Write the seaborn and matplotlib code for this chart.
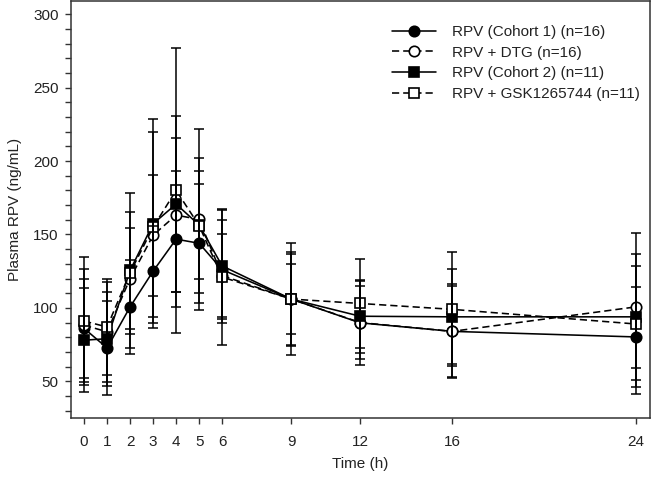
import numpy as np
import pandas as pd
import matplotlib
matplotlib.use("Agg")
import matplotlib.pyplot as plt
import seaborn as sns

times = [0, 1, 2, 3, 4, 5, 6, 9, 12, 16, 24]

labels = ["RPV (Cohort 1) (n=16)", "RPV + DTG (n=16)",
          "RPV (Cohort 2) (n=11)", "RPV + GSK1265744 (n=11)"]

c1_mean = [86, 72.7, 100.7, 125, 146.8, 144, 126, 106, 89.8, 84, 80.2]
c1_sd = [33.8, 32, 31.8, 31, 46.4, 40.5, 33.8, 38, 28.4, 32, 34]

dtg_mean = [88.2, 83.7, 120, 149.5, 163.2, 160.2, 122, 106, 90, 84, 100.7]
dtg_sd = [38.4, 34, 34.5, 41.2, 52.3, 61.4, 28, 32, 24.8, 31, 50]

c2_mean = [78, 79, 125.5, 157.3, 170.7, 156.4, 128.6, 106, 94.3, 93.9, 93.9]
c2_sd = [35.2, 32, 52.8, 71, 60, 37, 38.7, 24, 25, 32.3, 34.7]

gsk_mean = [91, 87, 124, 155, 180, 156, 121, 106, 103, 99, 89]
gsk_sd = [43.8, 33, 41.5, 65, 97, 46, 46, 31, 30, 38.8, 47.4]

y_ticks = [50, 100, 150, 200, 250, 300]

sns.set_style("ticks")
plt.rcParams["font.family"] = ["Liberation Sans", "DejaVu Sans"]
plt.rcParams["text.color"] = "#222222"
plt.rcParams["axes.labelcolor"] = "#222222"
plt.rcParams["xtick.color"] = "#333333"
plt.rcParams["ytick.color"] = "#333333"
plt.rcParams["xtick.labelcolor"] = "#222222"
plt.rcParams["ytick.labelcolor"] = "#222222"

fig = plt.figure(figsize=(6.51, 4.78), dpi=100)
ax = fig.add_axes([71 / 651, 1 - 418 / 478, 579 / 651, 417 / 478])

series = [
    (labels[0], c1_mean, c1_sd, "o", "black", ""),
    (labels[1], dtg_mean, dtg_sd, "o", "white", (4.5, 2.5)),
    (labels[2], c2_mean, c2_sd, "s", "black", ""),
    (labels[3], gsk_mean, gsk_sd, "s", "white", (4.5, 2.5)),
]

for lab, m, s, mk, fc, dash in series:
    df = pd.DataFrame({"time": times, "conc": m})
    kw = dict(dashes=dash) if dash else {}
    sns.lineplot(data=df, x="time", y="conc", ax=ax, color="black",
                 marker=mk, markersize=7.5 if mk == "o" else 7.0,
                 markerfacecolor=fc, markeredgecolor="black",
                 markeredgewidth=1.2, linewidth=1.15, label=lab,
                 errorbar=None, zorder=2, **kw)
    ax.errorbar(times, m, yerr=s, fmt="none", ecolor="black",
                elinewidth=1.1, capsize=3.4, capthick=1.1, zorder=3)

ax.set_xlim(-0.57, 24.6)
ax.set_ylim(25, 309)
ax.set_xticks(times)
ax.set_xticklabels([str(t) for t in times])
ax.set_yticks(y_ticks)
ax.set_yticks(np.arange(30, 310, 10), minor=True)
ax.tick_params(axis="both", which="both", direction="out", length=4,
               width=1.0, labelsize=11)
ax.tick_params(axis="x", pad=8)
ax.tick_params(axis="y", pad=5)
for sp in ax.spines.values():
    sp.set_visible(True)
    sp.set_color("#333333")
    sp.set_linewidth(1.1)

ax.set_xlabel("Time (h)", fontsize=11, labelpad=6)
ax.set_ylabel("Plasma RPV (ng/mL)", fontsize=11, labelpad=8)

h, l = ax.get_legend_handles_labels()
leg = ax.legend(h, l, loc="upper left",
                bbox_to_anchor=(392 / 651, 1 - 25 / 478),
                bbox_transform=fig.transFigure, frameon=False,
                fontsize=11, handlelength=2.9, handletextpad=1.0,
                labelspacing=0.44, borderpad=0, borderaxespad=0,
                numpoints=1)

fig.savefig("out.png", dpi=100)
